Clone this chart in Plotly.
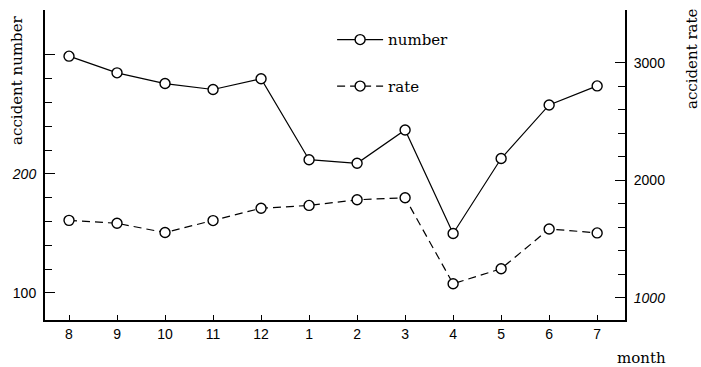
import plotly.graph_objects as go

# Monthly traffic accident figures, August through July
months = ["8", "9", "10", "11", "12", "1", "2", "3", "4", "5", "6", "7"]
accident_number = [299, 285, 276, 271, 280, 212, 209, 237, 150, 213, 258, 274]
accident_rate = [1660, 1635, 1556, 1658, 1763, 1787, 1835, 1852, 1120, 1248, 1587, 1553]

# Axis tick values and labels
number_ticks = [100, 200, 300]
number_ticktext = ["100", "<i>200</i>", ""]
number_minor = [120, 140, 160, 180, 220, 240, 260, 280]
rate_ticks = [1000, 2000, 3000]
rate_ticktext = ["<i>1000</i>", "2000", "3000"]
rate_minor = [1200, 1400, 1600, 1800, 2200, 2400, 2600, 2800]

SERIF = "DejaVu Serif, Liberation Serif, serif"
SANS = "Liberation Sans Narrow, Liberation Sans, Arial, sans-serif"

marker_style = dict(symbol="circle", size=10, color="white",
                    line=dict(color="black", width=1.4))

fig = go.Figure()
fig.add_trace(go.Scatter(
    x=months, y=accident_number, name="number", mode="lines+markers",
    line=dict(color="black", width=1.2), marker=marker_style,
    legendgroup="number", yaxis="y",
))
fig.add_trace(go.Scatter(
    x=months, y=accident_rate, name="rate", mode="lines+markers",
    line=dict(color="black", width=1.2, dash="8px,5px"), marker=marker_style,
    legendgroup="rate", yaxis="y2",
))

fig.update_layout(
    width=701, height=367,
    margin=dict(l=45, r=76, t=10, b=47),
    paper_bgcolor="white", plot_bgcolor="white",
    font=dict(family=SANS, size=13, color="black"),
    showlegend=True,
    legend=dict(
        x=0.495, y=0.957, xanchor="left", yanchor="top",
        bgcolor="rgba(0,0,0,0)", borderwidth=0,
        font=dict(family=SERIF, size=15, color="black"),
        tracegroupgap=24, itemwidth=46,
    ),
    xaxis=dict(
        type="category", range=[-0.5, 11.58],
        showline=True, linecolor="black", linewidth=2,
        ticks="inside", ticklen=5, tickwidth=1.3, tickcolor="black",
        showgrid=False, zeroline=False,
        tickfont=dict(family=SANS, size=14),
        ticklabelstandoff=0,
    ),
    yaxis=dict(
        range=[77.3, 337.8],
        showline=True, linecolor="black", linewidth=2,
        tickmode="array", tickvals=number_ticks, ticktext=number_ticktext,
        ticks="inside", ticklen=10, tickwidth=1.3, tickcolor="black",
        minor=dict(tickmode="array", tickvals=number_minor, ticks="inside",
                   ticklen=7, tickwidth=1.2, tickcolor="black", showgrid=False),
        showgrid=False, zeroline=False,
        tickfont=dict(family=SANS, size=14),
        ticklabelstandoff=4,
    ),
    yaxis2=dict(
        range=[812, 3450], overlaying="y", side="right", anchor="x",
        showline=True, linecolor="black", linewidth=2,
        tickmode="array", tickvals=rate_ticks, ticktext=rate_ticktext,
        ticks="inside", ticklen=10, tickwidth=1.3, tickcolor="black",
        minor=dict(tickmode="array", tickvals=rate_minor, ticks="inside",
                   ticklen=7, tickwidth=1.2, tickcolor="black", showgrid=False),
        showgrid=False, zeroline=False,
        tickfont=dict(family=SANS, size=14),
        ticklabelstandoff=4,
    ),
    annotations=[
        dict(text="accident number", xref="paper", yref="paper",
             x=-0.048, y=0.775, textangle=-90, showarrow=False,
             xanchor="center", yanchor="middle",
             font=dict(family=SERIF, size=15, color="black")),
        dict(text="accident rate", xref="paper", yref="paper",
             x=1.1155, y=0.845, textangle=-90, showarrow=False,
             xanchor="center", yanchor="middle",
             font=dict(family=SERIF, size=15, color="black")),
        dict(text="month", xref="paper", yref="paper",
             x=1.029, y=-0.1226, showarrow=False,
             xanchor="center", yanchor="middle",
             font=dict(family=SERIF, size=15, color="black")),
    ],
)

fig.write_html("out.html")
